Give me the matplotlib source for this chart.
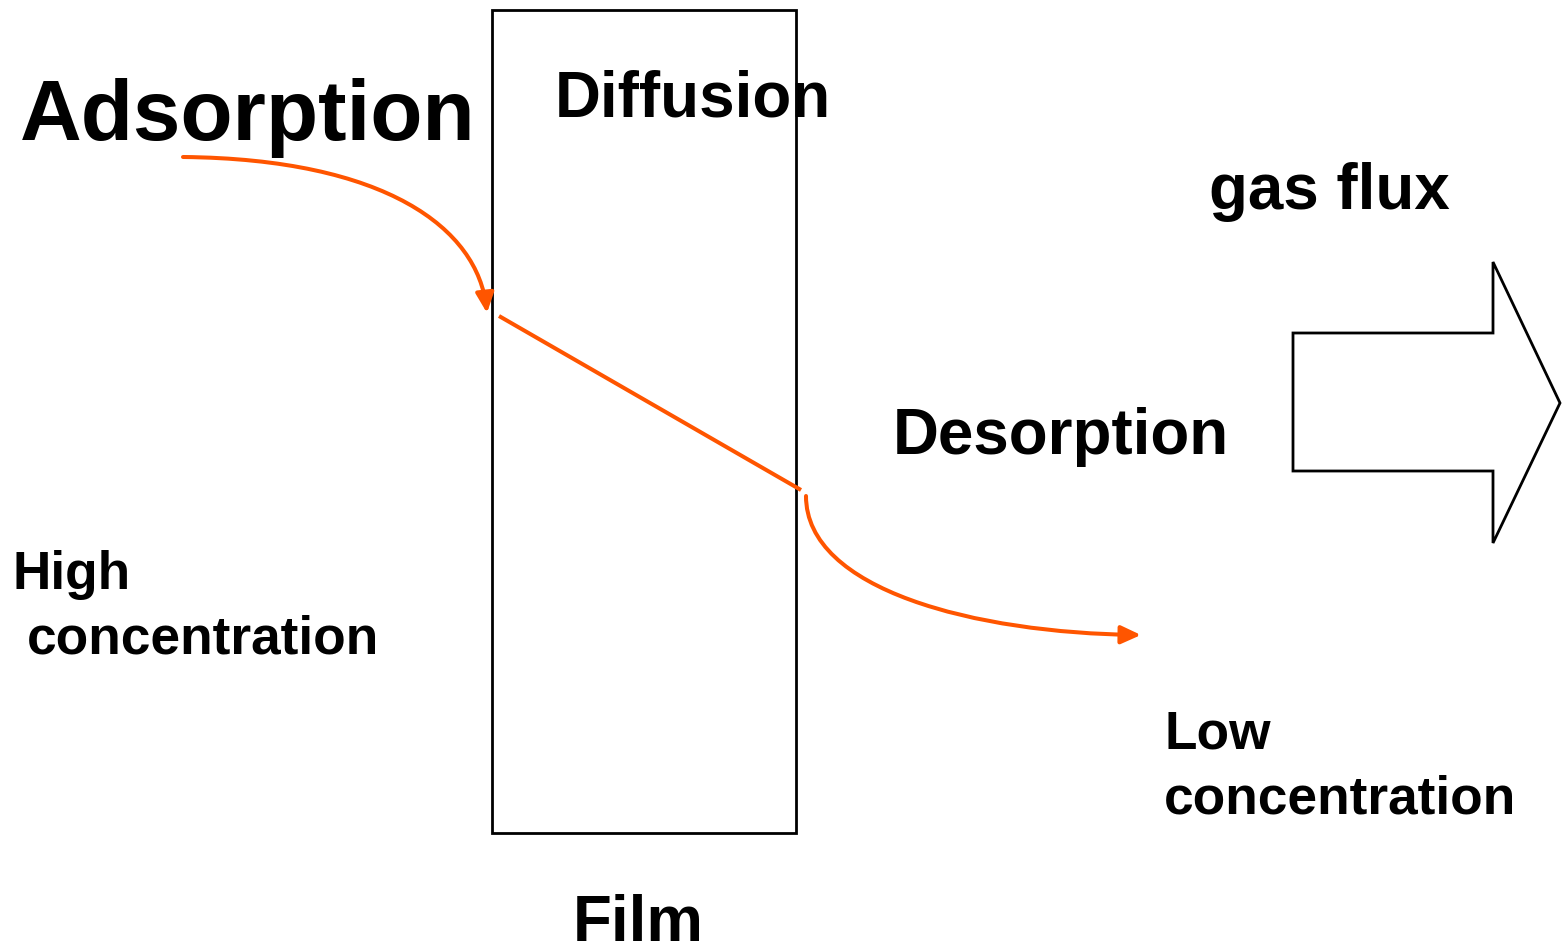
import matplotlib
matplotlib.use("Agg")
import matplotlib.pyplot as plt
from matplotlib.path import Path
from matplotlib.patches import FancyArrowPatch, Rectangle, Polygon

# ---- data (pixel layout of the diagram) ----
film_rect = [492, 10, 304, 823]            # x, y, width, height
gas_arrow = [(1293, 333), (1493, 333), (1493, 262), (1560, 403),
             (1493, 543), (1493, 471), (1293, 471)]
adsorption_curve = [(183, 157), (385, 159), (478, 228), (487, 313)]
diffusion_line_x = [499, 801]
diffusion_line_y = [316, 490]
desorption_curve = [(806, 496), (806, 590), (975, 633), (1141, 635)]

labels = [
    ("Adsorption", 20, 140, 61.6),
    ("Diffusion", 555, 116, 45.8),
    ("gas flux", 1209, 209, 45.8),
    ("Desorption", 893, 454, 45.8),
    ("Film", 573, 941, 45.8),
    ("High", 12, 589, 38.3),
    ("concentration", 27, 653, 38.3),
    ("Low", 1164, 748, 38.3),
    ("concentration", 1164, 813, 38.3),
]

ORANGE = "#FF5500"

fig = plt.figure(figsize=(15.63, 9.47), dpi=100)
ax = fig.add_axes([0, 0, 1, 1])
ax.set_xlim(0, 1563)
ax.set_ylim(947, 0)
ax.axis("off")

ax.add_patch(Rectangle((film_rect[0], film_rect[1]), film_rect[2], film_rect[3],
                       fill=False, edgecolor="black", lw=2))
ax.add_patch(Polygon(gas_arrow, closed=True, fill=False, edgecolor="black",
                     lw=2, joinstyle="miter"))

codes = [Path.MOVETO, Path.CURVE4, Path.CURVE4, Path.CURVE4]
style = "-|>,head_length=12,head_width=5.5"
for pts in (adsorption_curve, desorption_curve):
    ax.add_patch(FancyArrowPatch(path=Path(pts, codes), arrowstyle=style,
                                 color=ORANGE, lw=2.9, mutation_scale=1,
                                 shrinkA=0, shrinkB=0))

ax.plot(diffusion_line_x, diffusion_line_y, color=ORANGE, lw=2.9,
        solid_capstyle="butt")

for txt, x, y, fs in labels:
    ax.text(x, y, txt, fontsize=fs, fontweight="bold", family="Liberation Sans",
            ha="left", va="baseline", color="black")

fig.savefig("out.png", dpi=100)
